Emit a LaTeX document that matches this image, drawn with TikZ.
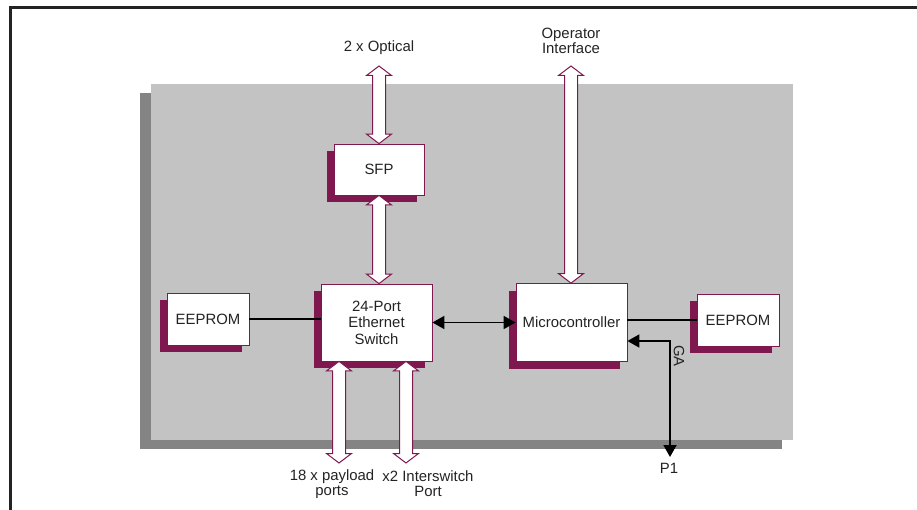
\documentclass[tikz,border=0pt]{standalone}
\usepackage{fontspec}
\setmainfont{Liberation Sans}
\usetikzlibrary{arrows.meta,shadows,calc}
\definecolor{maroon}{RGB}{128,24,80}
\definecolor{panel}{RGB}{195,195,195}
\definecolor{pshadow}{RGB}{132,132,132}
\definecolor{ink}{RGB}{35,35,35}
\newcommand\hdarrow[2]{%
  \path[harr] let \p1=#1, \p2=#2 in
    (\x1,\y1) -- (\x1+12.5pt,\y1-9.5pt) -- (\x1+6.5pt,\y1-9.5pt) -- (\x1+6.5pt,\y2+9.5pt)
    -- (\x1+12.5pt,\y2+9.5pt) -- (\x1,\y2) -- (\x1-12.5pt,\y2+9.5pt) -- (\x1-6.5pt,\y2+9.5pt)
    -- (\x1-6.5pt,\y1-9.5pt) -- (\x1-12.5pt,\y1-9.5pt) -- cycle;}
\begin{document}
\begin{tikzpicture}[x=1pt,y=-1pt,
  blk/.style={draw=maroon, line width=0.8pt, fill=white, align=center, text=ink,
    font=\fontsize{14.9}{16.5}\selectfont, inner sep=0pt,
    general shadow={fill=maroon, shadow xshift=-7pt, shadow yshift=-7pt}},
  eeblk/.style={blk, minimum width=82pt, minimum height=52pt},
  harr/.style={draw=maroon, fill=white, line width=1pt, line join=miter},
  conn/.style={draw=black, line width=1.8pt},
  lbl/.style={text=ink, align=center, font=\fontsize{14.9}{15}\selectfont, inner sep=0pt}]
\useasboundingbox (0,0) rectangle (917,510);
% outer frame
\draw[ink, line width=3pt] (10.5,530) -- (10.5,7.5) -- (930,7.5);
% board panel
\fill[pshadow] (140,93) rectangle (782,449);
\fill[panel] (151,84) rectangle (793,440);
% blocks
\node[blk, minimum width=90pt, minimum height=51pt] (sfp) at (379,169.5) {SFP};
\node[blk, minimum width=111pt, minimum height=77pt] (sw) at (376.5,322.5) {24-Port\\Ethernet\\Switch};
\node[eeblk] (eL) at (208,319) {EEPROM};
\node[blk, minimum width=111pt, minimum height=78pt] (mc) at (571.5,322.5) {Microcontroller};
\node[eeblk] (eR) at (738,320) {EEPROM};
% free ends
\coordinate (opt) at (379,66);
\coordinate (opi) at (571,66);
\coordinate (pay) at (339,463);
\coordinate (isw) at (406,463);
\coordinate (p1) at (670,457);
% hollow double arrows
\hdarrow{(opt)}{(sfp.south |- sfp.north)}
\hdarrow{(opi)}{(opi |- mc.north)}
\hdarrow{(sfp.south)}{(sfp.south |- sw.north)}
\hdarrow{(pay |- sw.south)}{(pay)}
\hdarrow{(isw |- sw.south)}{(isw)}
% line connectors
\draw[conn] (eL.east) -- (eL.east -| sw.west);
\draw[conn, {Triangle[length=12pt,width=13pt]}-{Triangle[length=12pt,width=13pt]}] (sw.east) -- (mc.west);
\draw[conn] (eR.west) -- (eR.west -| mc.east);
\draw[conn, {Triangle[length=12pt,width=13pt]}-{Triangle[length=12pt,width=13pt]}] ($(mc.east)+(0,18.5)$) -| (p1);
% labels
\node[lbl] (lopt) at (379,48) {2 x Optical};
\node[lbl] (lopi) at (571,41) {Operator\\Interface};
\node[lbl] (lpay) at (332,484) {18 x payload\\ports};
\node[lbl] (lisw) at (428,484) {x2 Interswitch\\Port};
\node[lbl] (lp1) at (669,468) {P1};
\node[lbl, rotate=-90] (lga) at (679,356) {GA};
\end{tikzpicture}
\end{document}
